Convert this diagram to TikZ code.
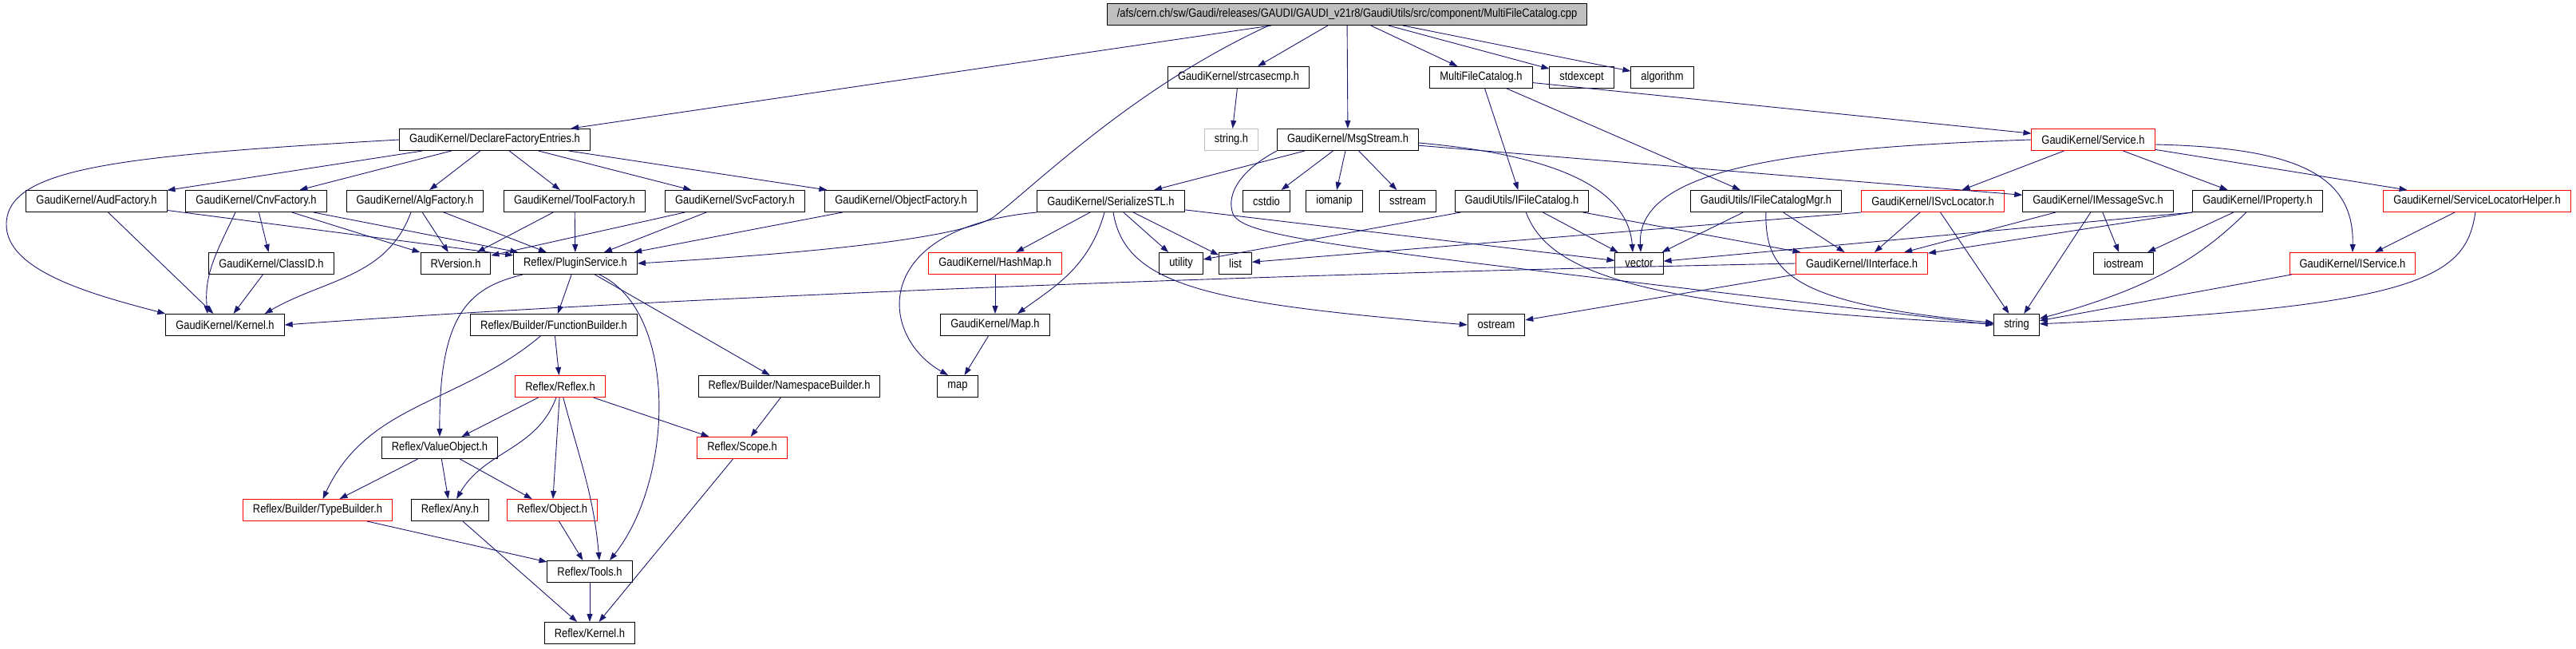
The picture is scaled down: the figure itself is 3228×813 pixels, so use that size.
\documentclass[tikz,border=0pt]{standalone}
\usepackage{fontspec}
\setmainfont{Liberation Sans}[FakeStretch=0.86]
\usepackage{tikz}
\usetikzlibrary{arrows.meta}
\definecolor{edgeblue}{HTML}{191970}
\definecolor{grey75}{HTML}{BFBFBF}
\tikzset{
  hdr/.style={draw=black, line width=1pt, rectangle, minimum height=27pt, inner xsep=12.5pt, inner ysep=0pt, font=\fontsize{15pt}{17pt}\selectfont},
  hdrred/.style={hdr, draw=red},
  hdrsys/.style={hdr, draw=grey75},
  hdrsrc/.style={hdr, fill=grey75},
  incl/.style={draw=edgeblue, line width=0.9pt, -{Triangle[length=10pt,width=7pt]}}
}
\begin{document}
\begin{tikzpicture}[x=1pt, y=-1pt]
			\useasboundingbox (0,0) rectangle (3228,813);
			\node[hdrsrc] (root) at (1688,18) {/afs/cern.ch/sw/Gaudi/releases/GAUDI/GAUDI\_v21r8/GaudiUtils/src/component/MultiFileCatalog.cpp};
			\node[hdr] (strc) at (1552,97) {GaudiKernel/strcasecmp.h};
			\node[hdr] (mfc) at (1856,97) {MultiFileCatalog.h};
			\node[hdr] (stdx) at (1982,97) {stdexcept};
			\node[hdr] (algo) at (2083,97) {algorithm};
			\node[hdr] (dfe) at (620,175) {GaudiKernel/DeclareFactoryEntries.h};
			\node[hdrsys] (strh) at (1543,175) {string.h};
			\node[hdr] (msg) at (1689,175) {GaudiKernel/MsgStream.h};
			\node[hdrred] (svc) at (2623,175) {GaudiKernel/Service.h};
			\node[hdr] (aud) at (121,252) {GaudiKernel/AudFactory.h};
			\node[hdr] (cnv) at (321,252) {GaudiKernel/CnvFactory.h};
			\node[hdr] (alg) at (520,252) {GaudiKernel/AlgFactory.h};
			\node[hdr] (tool) at (720,252) {GaudiKernel/ToolFactory.h};
			\node[hdr] (svcf) at (921,252) {GaudiKernel/SvcFactory.h};
			\node[hdr] (objf) at (1129,252) {GaudiKernel/ObjectFactory.h};
			\node[hdr] (ser) at (1392,252) {GaudiKernel/SerializeSTL.h};
			\node[hdr] (cstd) at (1587,252) {cstdio};
			\node[hdr] (ioma) at (1672,252) {iomanip};
			\node[hdr] (sstr) at (1764,252) {sstream};
			\node[hdr] (ifc) at (1907,252) {GaudiUtils/IFileCatalog.h};
			\node[hdr] (ifcm) at (2213,252) {GaudiUtils/IFileCatalogMgr.h};
			\node[hdrred] (isl) at (2422,252) {GaudiKernel/ISvcLocator.h};
			\node[hdr] (ims) at (2629,252) {GaudiKernel/IMessageSvc.h};
			\node[hdr] (iprop) at (2829,252) {GaudiKernel/IProperty.h};
			\node[hdrred] (slh) at (3104,252) {GaudiKernel/ServiceLocatorHelper.h};
			\node[hdr] (clid) at (340,330) {GaudiKernel/ClassID.h};
			\node[hdr] (rver) at (571,330) {RVersion.h};
			\node[hdr] (plug) at (721,330) {Reflex/PluginService.h};
			\node[hdrred] (hmap) at (1247,330) {GaudiKernel/HashMap.h};
			\node[hdr] (util) at (1480,330) {utility};
			\node[hdr] (list) at (1548,330) {list};
			\node[hdr] (vec) at (2054,330) {vector};
			\node[hdrred] (iif) at (2333,330) {GaudiKernel/IInterface.h};
			\node[hdr] (iost) at (2661,330) {iostream};
			\node[hdrred] (isrv) at (2948,330) {GaudiKernel/IService.h};
			\node[hdr] (gkern) at (282,407) {GaudiKernel/Kernel.h};
			\node[hdr] (fbld) at (694,407) {Reflex/Builder/FunctionBuilder.h};
			\node[hdr] (gmap) at (1247,407) {GaudiKernel/Map.h};
			\node[hdr] (ostr) at (1875,407) {ostream};
			\node[hdr] (str) at (2527,407) {string};
			\node[hdrred] (rflx) at (702,484) {Reflex/Reflex.h};
			\node[hdr] (nsb) at (989,484) {Reflex/Builder/NamespaceBuilder.h};
			\node[hdr] (map) at (1200,484) {map};
			\node[hdr] (vobj) at (551,561) {Reflex/ValueObject.h};
			\node[hdrred] (scope) at (930,561) {Reflex/Scope.h};
			\node[hdrred] (tbld) at (398,639) {Reflex/Builder/TypeBuilder.h};
			\node[hdr] (any) at (564,639) {Reflex/Any.h};
			\node[hdrred] (obj) at (692,639) {Reflex/Object.h};
			\node[hdr] (tools) at (739,716) {Reflex/Tools.h};
			\node[hdr] (rkern) at (739,793) {Reflex/Kernel.h};
			% includes of the source file
			\draw[incl] (root) -- (dfe);
			\draw[incl] ([xshift=-98pt]root.south) .. controls (1420,110) and (1300,230) .. (1245,272) .. controls (1200,300) and (1000,318) .. (plug.east);
			\foreach \t in {strc,msg,mfc,stdx,algo}
			\draw[incl] (root) -- (\t);
			\draw[incl] (strc) -- (strh);
			\foreach \t in {ifc,ifcm,svc}
			\draw[incl] (mfc) -- (\t);
			% factories
			\draw[incl] (dfe.west) .. controls (150,195) and (10,210) .. (8,280) .. controls (6,340) and (120,370) .. (gkern.north west);
			\foreach \t in {aud,cnv,alg,tool,svcf,objf}
			\draw[incl] (dfe) -- (\t);
			\draw[incl] (aud) -- (gkern);
			\draw[incl] ([xshift=-26pt]cnv.south) to[out=-115,in=95] ([xshift=-22pt]gkern.north);
			\draw[incl] (alg) to[out=-110,in=30] ([xshift=-25pt]gkern.north east);
			\draw[incl] (cnv) -- (clid);
			\draw[incl] (clid) -- (gkern);
			\foreach \s in {cnv,alg,tool,svcf}
			\draw[incl] (\s) -- (rver);
			\foreach \s in {aud,cnv,alg,tool,svcf,objf}
			\draw[incl] (\s) -- (plug);
			% reflex
			\draw[incl] ([xshift=12pt]plug.south west) .. controls (590,360) and (550,390) .. (vobj.north);
			\draw[incl] (plug) -- (fbld);
			\draw[incl] ([xshift=30pt]plug.south) .. controls (850,390) and (845,600) .. ([xshift=25pt]tools.north);
			\draw[incl] (plug) -- (nsb);
			\draw[incl] (fbld) to[out=-140,in=65] (tbld);
			\draw[incl] (fbld) -- (rflx);
			\draw[incl] (rflx) -- (vobj);
			\draw[incl] (rflx) to[out=-110,in=60] (any);
			\draw[incl] (rflx) -- (obj);
			\draw[incl] (rflx) to[out=-75,in=95] ([xshift=12pt]tools.north);
			\draw[incl] (rflx) -- (scope);
			\foreach \t in {tbld,any,obj}
			\draw[incl] (vobj) -- (\t);
			\draw[incl] (tbld) -- (tools);
			\draw[incl] (obj) -- (tools);
			\draw[incl] (any) -- (rkern);
			\draw[incl] (tools) -- (rkern);
			\draw[incl] (scope) -- (rkern);
			\draw[incl] (nsb) -- (scope);
			% msgstream and serialize
			\foreach \t in {ser,cstd,ioma,sstr,ims}
			\draw[incl] (msg) -- (\t);
			\draw[incl] ([yshift=-4pt]msg.east) .. controls (1960,195) and (2040,240) .. ([xshift=-8pt]vec.north);
			\draw[incl] (msg.south west) .. controls (1560,210) and (1535,240) .. (1545,268) .. controls (1560,300) and (1700,312) .. (str.west);
			\draw[incl] (ser) -- (hmap);
			\draw[incl] ([xshift=-8pt]ser.south) .. controls (1365,335) and (1320,360) .. ([xshift=28pt]gmap.north);
			\draw[incl] ([xshift=3pt]ser.south) .. controls (1410,360) and (1520,380) .. (ostr.west);
			\draw[incl] (ser.south west) .. controls (1090,285) and (1100,420) .. ([xshift=-12pt]map.north);
			\foreach \t in {util,list,vec}
			\draw[incl] (ser) -- (\t);
			\draw[incl] (hmap) -- (gmap);
			\draw[incl] (gmap) -- (map);
			% file catalog and service
			\draw[incl] (ifc) -- (util);
			\draw[incl] (ifc) -- (vec);
			\draw[incl] (ifc) -- (iif);
			\draw[incl] (ifc) .. controls (1940,340) and (2050,385) .. (str);
			\draw[incl] (ifcm) -- (vec);
			\draw[incl] (ifcm) -- (iif);
			\draw[incl] (ifcm) .. controls (2212,340) and (2240,380) .. (str);
			\draw[incl] (isl.south west) -- (list);
			\draw[incl] (isl) -- (iif);
			\draw[incl] (isl) -- (str);
			\draw[incl] (svc.west) .. controls (2250,185) and (2050,210) .. ([xshift=2pt]vec.north);
			\foreach \t in {isl,iprop,slh}
			\draw[incl] (svc) -- (\t);
			\draw[incl] ([yshift=-6pt]svc.east) .. controls (2880,185) and (2950,220) .. (isrv.north);
			\foreach \t in {iif,str,iost}
			\draw[incl] (ims) -- (\t);
			\draw[incl] (iprop.south west) -- (iif);
			\draw[incl] (iprop.south west) -- (vec);
			\draw[incl] (iprop) -- (iost);
			\draw[incl] (iprop) .. controls (2760,320) and (2700,360) .. (str);
			\draw[incl] (slh) -- (isrv);
			\draw[incl] (slh) .. controls (3090,345) and (3040,385) .. (str);
			\draw[incl] (isrv) -- (str);
			\draw[incl] (iif.west) .. controls (1500,345) and (800,375) .. (gkern.east);
			\draw[incl] (iif) -- (ostr);
		\end{tikzpicture}
\end{document}
